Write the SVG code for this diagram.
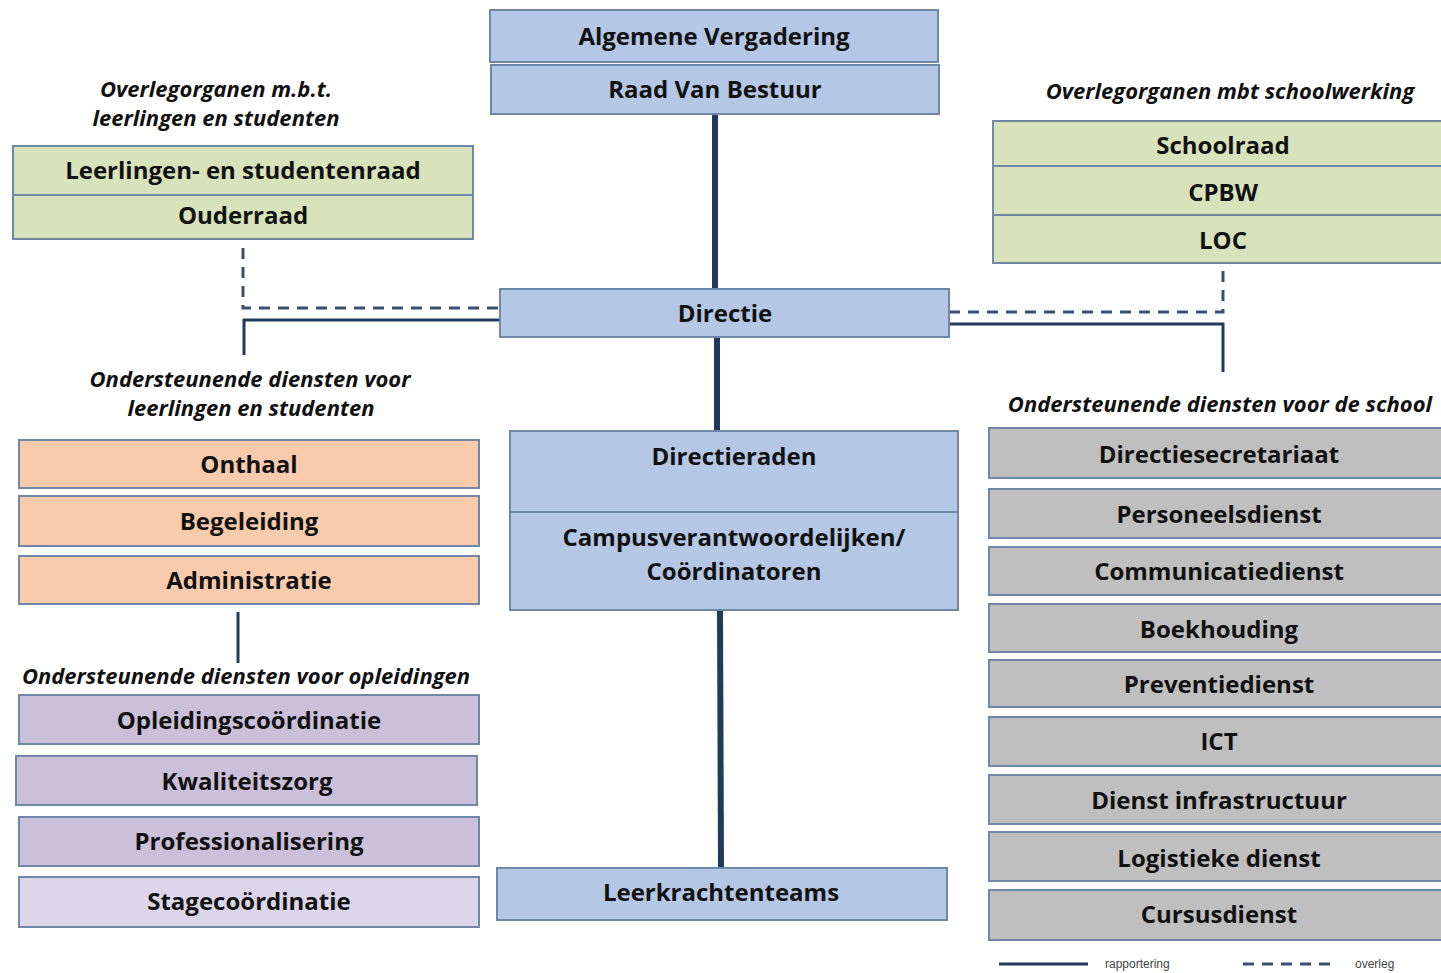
<svg xmlns="http://www.w3.org/2000/svg" width="1441" height="973" viewBox="0 0 1441 973">
<style>
.box{stroke:#6f88a8;stroke-width:2}
.blue{fill:#b4c7e5}
.green{fill:#d8e3bc}
.orange{fill:#f8cbad}
.purple{fill:#cbc0da}
.lpurple{fill:#dcd6ea}
.gray{fill:#bfbfbf}
.t{font-family:"Open Sans","DejaVu Sans",sans-serif;font-weight:700;font-size:24px;fill:#111;text-anchor:middle}
.lbl{font-family:"Open Sans","DejaVu Sans",sans-serif;font-weight:700;font-style:italic;font-size:22px;fill:#111;text-anchor:middle}
.solid{stroke:#1f3a5a;fill:none;stroke-width:3}
.thick{stroke:#1f3a5a;fill:none;stroke-width:6}
.dash{stroke:#3a5070;fill:none;stroke-width:3;stroke-dasharray:11 8}
.leg{font-family:"Liberation Sans",Arial,sans-serif;font-size:12px;fill:#444}
</style>
<rect width="1441" height="973" fill="#fff"/>
<g id="connectors">
<line class="thick" x1="715" y1="114" x2="715" y2="289"/>
<line class="thick" x1="717" y1="337" x2="717" y2="431"/>
<line class="thick" x1="720" y1="610" x2="721" y2="868"/>
<polyline class="dash" points="243,248 243,308 500,308"/>
<polyline class="solid" points="500,320 244,320 244,355"/>
<polyline class="dash" points="949,312 1223,312 1223,263"/>
<polyline class="solid" points="949,324 1223,324 1223,372"/>
<line class="solid" x1="238" y1="612" x2="238" y2="663"/>
</g>
<g id="labels">
<text class="lbl" x="216" y="97">Overlegorganen m.b.t.</text>
<text class="lbl" x="216" y="126">leerlingen en studenten</text>
<text class="lbl" x="1230" y="99">Overlegorganen mbt schoolwerking</text>
<text class="lbl" x="250" y="387">Ondersteunende diensten voor</text>
<text class="lbl" x="251" y="416">leerlingen en studenten</text>
<text class="lbl" x="1220" y="412">Ondersteunende diensten voor de school</text>
<text class="lbl" x="246" y="684">Ondersteunende diensten voor opleidingen</text>
</g>
<g id="algemene-vergadering"><rect class="box blue" x="490" y="10" width="448" height="52"/><text class="t" x="714" y="45">Algemene Vergadering</text></g>
<g id="raad-van-bestuur"><rect class="box blue" x="491" y="65" width="448" height="49"/><text class="t" x="715" y="98">Raad Van Bestuur</text></g>
<g id="overleg-leerlingen">
<rect class="box green" x="13" y="146" width="460" height="49"/><text class="t" x="243" y="179">Leerlingen- en studentenraad</text>
<rect class="box green" x="13" y="195" width="460" height="44"/><text class="t" x="243" y="224">Ouderraad</text>
</g>
<g id="overleg-school">
<rect class="box green" x="993" y="121" width="455" height="45"/><text class="t" x="1223" y="154">Schoolraad</text>
<rect class="box green" x="993" y="166" width="455" height="49"/><text class="t" x="1223" y="201">CPBW</text>
<rect class="box green" x="993" y="215" width="455" height="48"/><text class="t" x="1223" y="249">LOC</text>
</g>
<g id="directie"><rect class="box blue" x="500" y="289" width="449" height="48"/><text class="t" x="725" y="322">Directie</text></g>
<g id="directieraden">
<rect class="box blue" x="510" y="431" width="448" height="81"/><text class="t" x="734" y="465">Directieraden</text>
<rect class="box blue" x="510" y="512" width="448" height="98"/><text class="t" x="734" y="546">Campusverantwoordelijken/</text><text class="t" x="734" y="580">Coördinatoren</text>
</g>
<g id="leerkrachtenteams"><rect class="box blue" x="497" y="868" width="450" height="52"/><text class="t" x="721" y="901">Leerkrachtenteams</text></g>
<g id="onthaal"><rect class="box orange" x="19" y="440" width="460" height="48"/><text class="t" x="249" y="473">Onthaal</text></g>
<g id="begeleiding"><rect class="box orange" x="19" y="496" width="460" height="50"/><text class="t" x="249" y="530">Begeleiding</text></g>
<g id="administratie"><rect class="box orange" x="19" y="556" width="460" height="48"/><text class="t" x="249" y="589">Administratie</text></g>
<g id="opleidingscoordinatie"><rect class="box purple" x="19" y="695" width="460" height="49"/><text class="t" x="249" y="729">Opleidingscoördinatie</text></g>
<g id="kwaliteitszorg"><rect class="box purple" x="16" y="756" width="461" height="49"/><text class="t" x="247" y="790">Kwaliteitszorg</text></g>
<g id="professionalisering"><rect class="box purple" x="19" y="817" width="460" height="49"/><text class="t" x="249" y="850">Professionalisering</text></g>
<g id="stagecoordinatie"><rect class="box lpurple" x="19" y="877" width="460" height="50"/><text class="t" x="249" y="910">Stagecoördinatie</text></g>
<g id="directiesecretariaat"><rect class="box gray" x="989" y="428" width="460" height="50"/><text class="t" x="1219" y="463">Directiesecretariaat</text></g>
<g id="personeelsdienst"><rect class="box gray" x="989" y="489" width="460" height="49"/><text class="t" x="1219" y="523">Personeelsdienst</text></g>
<g id="communicatiedienst"><rect class="box gray" x="989" y="547" width="460" height="48"/><text class="t" x="1219" y="580">Communicatiedienst</text></g>
<g id="boekhouding"><rect class="box gray" x="989" y="604" width="460" height="48"/><text class="t" x="1219" y="638">Boekhouding</text></g>
<g id="preventiedienst"><rect class="box gray" x="989" y="660" width="460" height="47"/><text class="t" x="1219" y="693">Preventiedienst</text></g>
<g id="ict"><rect class="box gray" x="989" y="717" width="460" height="49"/><text class="t" x="1219" y="750">ICT</text></g>
<g id="dienst-infrastructuur"><rect class="box gray" x="989" y="775" width="460" height="49"/><text class="t" x="1219" y="809">Dienst infrastructuur</text></g>
<g id="logistieke-dienst"><rect class="box gray" x="989" y="832" width="460" height="49"/><text class="t" x="1219" y="867">Logistieke dienst</text></g>
<g id="cursusdienst"><rect class="box gray" x="989" y="890" width="460" height="50"/><text class="t" x="1219" y="923">Cursusdienst</text></g>
<g id="legend">
<line class="solid" x1="999" y1="964" x2="1088" y2="964"/>
<text class="leg" x="1105" y="968">rapportering</text>
<line class="dash" x1="1243" y1="964" x2="1336" y2="964"/>
<text class="leg" x="1355" y="968">overleg</text>
</g>
</svg>
